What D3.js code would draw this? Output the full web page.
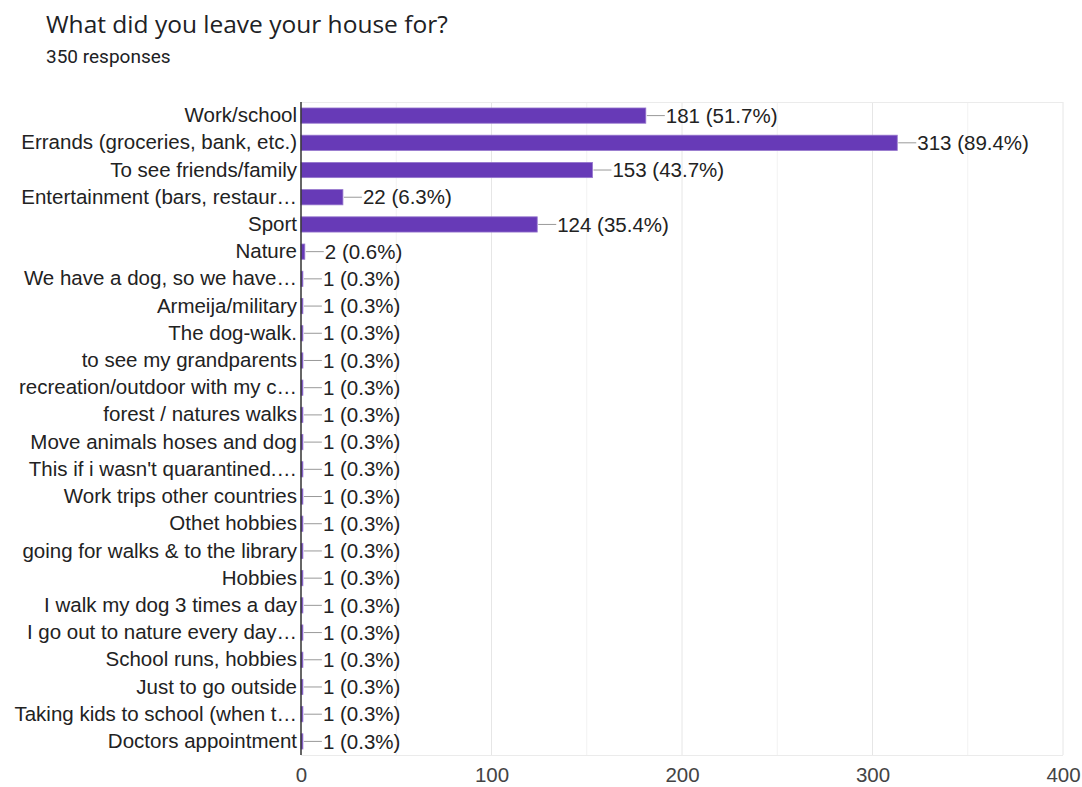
<!DOCTYPE html>
<html>
<head>
<meta charset="utf-8">
<script src="https://cdn.jsdelivr.net/npm/d3@7"></script>
<style>
  body { margin: 0; background: #fff; }
  svg { display: block; }
</style>
</head>
<body>
<svg id="chart" width="1082" height="787"></svg>
<script>
// Survey answers and their counts
const categories = [
  "Work/school",
  "Errands (groceries, bank, etc.)",
  "To see friends/family",
  "Entertainment (bars, restaur\u2026",
  "Sport",
  "Nature",
  "We have a dog, so we have\u2026",
  "Armeija/military",
  "The dog-walk.",
  "to see my grandparents",
  "recreation/outdoor with my c\u2026",
  "forest / natures walks",
  "Move animals hoses and dog",
  "This if i wasn't quarantined.\u2026",
  "Work trips other countries",
  "Othet hobbies",
  "going for walks & to the library",
  "Hobbies",
  "I walk my dog 3 times a day",
  "I go out to nature every day\u2026",
  "School runs, hobbies",
  "Just to go outside",
  "Taking kids to school (when t\u2026",
  "Doctors appointment"
];
const counts = [181, 313, 153, 22, 124, 2, 1, 1, 1, 1, 1, 1, 1, 1, 1, 1, 1, 1, 1, 1, 1, 1, 1, 1];
const totalResponses = 350;
const xTicks = [0, 100, 200, 300, 400];
const xGrid = [50, 150, 250, 350];

const title = "What did you leave your house for?";
const subtitle = totalResponses + " responses";

const svg = d3.select("#chart");
const margin = { top: 102, right: 19, bottom: 32, left: 301 };
const width = 1082, height = 787;
const labelFont = "'Liberation Sans', Arial, sans-serif";
const labelSize = 20.5;

const x = d3.scaleLinear().domain([0, 400]).range([margin.left, width - margin.right]);
const y = d3.scaleBand().domain(categories).range([margin.top, height - margin.bottom]).paddingInner(0.44).paddingOuter(0.22);

// Header
svg.append("text")
  .attr("x", 46).attr("y", 33)
  .attr("font-family", "'Open Sans', 'Noto Sans', sans-serif")
  .attr("font-size", 24.5).attr("fill", "#202124")
  .text(title);
svg.append("text")
  .attr("x", 46).attr("y", 63)
  .attr("font-family", "Roboto, sans-serif")
  .attr("font-size", 19).attr("fill", "#202124")
  .text(subtitle);

// Grid
const g = svg.append("g");
g.selectAll("line.minor").data(xGrid).join("line")
  .attr("class", "minor")
  .attr("x1", d => x(d)).attr("x2", d => x(d))
  .attr("y1", margin.top).attr("y2", height - margin.bottom)
  .attr("stroke", "#f2f2f2").attr("stroke-width", 1);
g.selectAll("line.major").data(xTicks.slice(1)).join("line")
  .attr("class", "major")
  .attr("x1", d => x(d)).attr("x2", d => x(d))
  .attr("y1", margin.top).attr("y2", height - margin.bottom)
  .attr("stroke", "#e6e6e6").attr("stroke-width", 1);
g.append("line")
  .attr("x1", margin.left).attr("x2", width - margin.right)
  .attr("y1", margin.top + 0.5).attr("y2", margin.top + 0.5)
  .attr("stroke", "#ebebeb");
g.append("line")
  .attr("x1", margin.left).attr("x2", width - margin.right)
  .attr("y1", height - margin.bottom + 0.5).attr("y2", height - margin.bottom + 0.5)
  .attr("stroke", "#ebebeb");

// X axis tick labels
const xAxis = d3.axisBottom(x).tickValues(xTicks).tickSize(0).tickPadding(12);
const xg = svg.append("g").attr("transform", `translate(0,${height - margin.bottom})`).call(xAxis);
xg.select(".domain").remove();
xg.selectAll("text")
  .attr("font-family", labelFont)
  .attr("font-size", labelSize).attr("fill", "#444");

// Bars
const rows = categories.map((c, i) => ({ label: c, value: counts[i] }));
svg.append("g").selectAll("rect").data(rows).join("rect")
  .attr("x", x(0))
  .attr("y", d => y(d.label))
  .attr("width", d => x(d.value) - x(0))
  .attr("height", y.bandwidth())
  .attr("fill", "#673ab7")
  .attr("stroke", "#9575cd").attr("stroke-width", 0.8);

// Leader lines and value labels
const lab = svg.append("g");
lab.selectAll("line").data(rows).join("line")
  .attr("x1", d => x(d.value) + 1).attr("x2", d => x(d.value) + 19)
  .attr("y1", d => y(d.label) + y.bandwidth() / 2)
  .attr("y2", d => y(d.label) + y.bandwidth() / 2)
  .attr("stroke", "#999").attr("stroke-width", 1);
lab.selectAll("text").data(rows).join("text")
  .attr("x", d => x(d.value) + 20)
  .attr("y", d => y(d.label) + y.bandwidth() / 2)
  .attr("dy", "0.35em")
  .attr("font-family", labelFont)
  .attr("font-size", labelSize).attr("fill", "#222")
  .text(d => `${d.value} (${(d.value / totalResponses * 100).toFixed(1)}%)`);

// Category axis
const yAxis = d3.axisLeft(y).tickSize(0).tickPadding(4);
const yg = svg.append("g").attr("transform", `translate(${margin.left},0)`).call(yAxis);
yg.select(".domain").remove();
yg.selectAll("text")
  .attr("font-family", labelFont)
  .attr("font-size", labelSize).attr("fill", "#222");
svg.append("line")
  .attr("x1", margin.left).attr("x2", margin.left)
  .attr("y1", margin.top).attr("y2", height - margin.bottom)
  .attr("stroke", "#333").attr("stroke-width", 1.5);
</script>
</body>
</html>
